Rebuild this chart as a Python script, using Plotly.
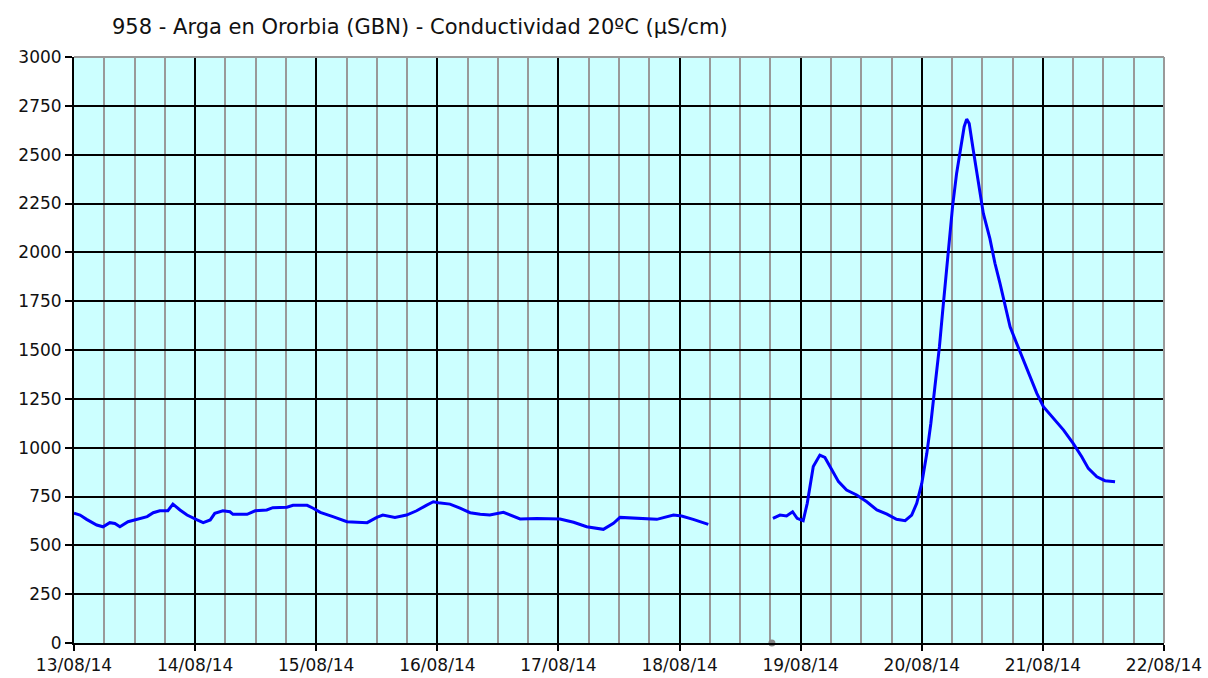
import plotly.graph_objects as go
from datetime import datetime, timedelta

start = datetime(2014, 8, 13)

# Segment 1 (hours since 13/08/14 00:00, µS/cm)
hours_1 = [0, 1.2, 2.5, 4.5, 5.75, 7.1, 8.1, 9.1, 10.7, 13.1, 14.5, 15.7, 17, 18.6, 19.6, 21, 22.4,
           24.4, 25.6, 27, 27.9, 29.5, 30.9, 31.5, 34.3, 35.9, 38.2, 39.4, 42.2, 43.4, 46.2, 47.4,
           48.8, 51.3, 54.1, 58.1, 60, 61.2, 63.6, 65.9, 67.9, 69.9, 71.2, 72.2, 74.5, 76.5, 78.5,
           80.5, 82.4, 85.1, 87.1, 88.4, 91.7, 96.3, 99, 101.6, 104.9, 106.9, 108.2, 111.5, 115.5,
           118.8, 120.4, 122.7, 125.7]
values_1 = [664, 655, 633, 604, 595, 616, 612, 595, 621, 638, 647, 667, 677, 677, 711, 681, 655,
            630, 616, 630, 664, 677, 672, 659, 659, 677, 681, 693, 695, 705, 705, 690,
            669, 647, 621, 616, 643, 655, 643, 655, 677, 706, 723, 718, 711, 690, 667,
            659, 655, 669, 650, 635, 638, 635, 618, 595, 582, 613, 643, 640, 633,
            655, 650, 633, 607]

# Segment 2
hours_2 = [138.5, 139.9, 141.2, 142.4, 143.3, 144.5, 145.3, 145.9, 146.5, 147.8, 148.8, 150.2,
           151.5, 153.1, 155.1, 157.1, 159.1, 161.1, 163, 164.7, 166, 167, 168, 169, 169.8, 170.6,
           171.5, 172.1, 172.8, 173.5, 174.1, 174.9, 175.7, 176.4, 176.9, 177.4, 178.2, 179.2,
           180.2, 181.5, 182.5, 183.5, 184.5, 185.5, 186.8, 188.1, 189.5, 190.8, 192.1, 194.1,
           196.1, 198, 199.7, 201, 202.7, 204.3, 206.3]
values_2 = [638, 655, 650, 672, 638, 626, 715, 817, 903, 962, 950, 886,
            826, 783, 758, 723, 681, 660, 633, 626, 655, 715, 817, 971, 1125, 1312,
            1517, 1688, 1875, 2063, 2234, 2404, 2541, 2643, 2682, 2660, 2524, 2353,
            2199, 2070, 1944, 1841, 1722, 1619, 1534, 1449, 1363, 1278, 1210, 1150,
            1090, 1022, 954, 894, 851, 831, 826]

marker_hours = [138.3]
marker_values = [0]

title_text = "958 - Arga en Ororbia (GBN) - Conductividad 20ºC (µS/cm)"

def to_times(hs):
    return [start + timedelta(hours=h) for h in hs]

x = to_times(hours_1) + [None] + to_times(hours_2)
y = values_1 + [None] + values_2

fig = go.Figure()
fig.add_trace(go.Scatter(x=x, y=y, mode="lines", connectgaps=False,
                         line=dict(color="#0000FF", width=3), showlegend=False))
fig.add_trace(go.Scatter(x=to_times(marker_hours), y=marker_values, mode="markers",
                         marker=dict(color="#888888", size=7), showlegend=False, cliponaxis=False))

font = "DejaVu Sans"
fig.update_layout(
    width=1208, height=678,
    margin=dict(l=74, r=44, t=57, b=35, autoexpand=False),
    paper_bgcolor="white", plot_bgcolor="#CCFFFF",
    font=dict(family=font, size=17, color="#111111"),
    annotations=[dict(text=title_text, xref="paper", yref="paper",
                      x=(110 - 74) / 1090, y=1 + 30 / 586, xanchor="left", yanchor="middle",
                      showarrow=False, font=dict(family=font, size=21, color="#111111"))],
)
fig.update_xaxes(
    type="date", range=[start, start + timedelta(days=9)], automargin=False,
    dtick=86400000, tick0=start, tickformat="%d/%m/%y",
    showgrid=True, gridcolor="#000000", gridwidth=1.5,
    minor=dict(dtick=21600000, tick0=start, showgrid=True, gridcolor="#999999", gridwidth=2),
    showline=True, linecolor="#000000", linewidth=2,
    ticks="outside", ticklen=6, tickcolor="#000000", tickwidth=1.5,
    tickfont=dict(family=font, size=17), zeroline=False, mirror=False,
)
fig.update_yaxes(
    range=[0, 3000], dtick=250, tick0=0, automargin=False,
    showgrid=True, gridcolor="#000000", gridwidth=1.5,
    showline=True, linecolor="#000000", linewidth=2,
    ticks="outside", ticklen=7, tickcolor="#000000", tickwidth=1.5,
    tickfont=dict(family=font, size=17), zeroline=False,
)
fig.add_shape(type="line", xref="paper", yref="paper", x0=1, x1=1, y0=0, y1=1,
              line=dict(color="#999999", width=2))
fig.add_shape(type="line", xref="paper", yref="paper", x0=0, x1=1, y0=1, y1=1,
              line=dict(color="#999999", width=2))

fig.write_html("out.html", config={"displayModeBar": False})

# remove the default page margin so the figure sits at the window's top-left corner
with open("out.html", "r", encoding="utf-8") as f:
    html = f.read()
html = html.replace("<head>", "<head><style>html,body{margin:0;padding:0;overflow:hidden;}</style>", 1)
with open("out.html", "w", encoding="utf-8") as f:
    f.write(html)
